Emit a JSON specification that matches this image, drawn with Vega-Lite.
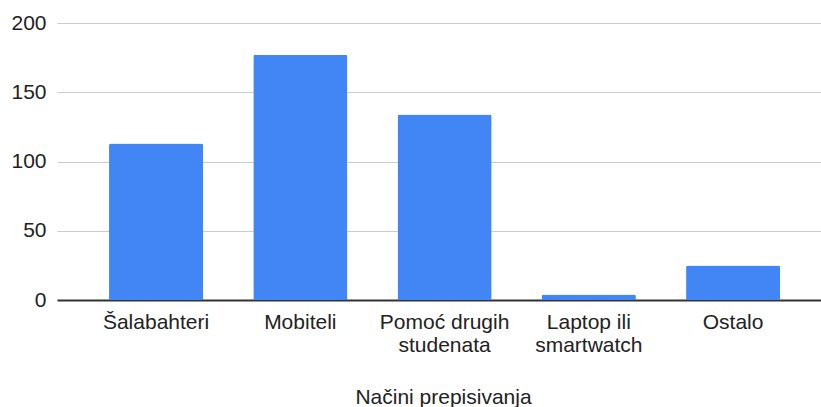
{
  "$schema": "https://vega.github.io/schema/vega-lite/v6.json",
  "autosize": {"type": "none"},
  "width": 764,
  "height": 277,
  "padding": {"left": 57, "top": 23, "right": 0, "bottom": 107},
  "background": "white",
  "data": {
    "values": [
      {"nacin": "Šalabahteri", "broj": 113},
      {"nacin": "Mobiteli", "broj": 177},
      {"nacin": "Pomoć drugih studenata", "broj": 134},
      {"nacin": "Laptop ili smartwatch", "broj": 4},
      {"nacin": "Ostalo", "broj": 25}
    ]
  },
  "mark": {"type": "bar", "color": "#4285F4", "cornerRadiusTopLeft": 2, "cornerRadiusTopRight": 2},
  "encoding": {
    "x": {
      "field": "nacin",
      "type": "nominal",
      "sort": null,
      "scale": {"paddingInner": 0.348, "paddingOuter": 0.322, "align": 0.56},
      "axis": {
        "title": "Načini prepisivanja",
        "labelAngle": 0,
        "labelFont": "Liberation Sans",
        "labelFontSize": 21,
        "labelColor": "#222222",
        "labelPadding": 11,
        "labelLineHeight": 23,
        "labelLimit": 250,
        "labelExpr": "datum.label == 'Pomoć drugih studenata' ? ['Pomoć drugih', 'studenata'] : datum.label == 'Laptop ili smartwatch' ? ['Laptop ili', 'smartwatch'] : datum.label",
        "ticks": false,
        "domain": true,
        "domainColor": "#333333",
        "domainWidth": 2,
        "titleFont": "Liberation Sans",
        "titleFontSize": 21,
        "titleFontWeight": "normal",
        "titleColor": "#222222",
        "titleBaseline": "alphabetic",
        "titleX": 386,
        "titleY": 103.5
      }
    },
    "y": {
      "field": "broj",
      "type": "quantitative",
      "scale": {"domain": [0, 200], "nice": false},
      "axis": {
        "title": null,
        "values": [0, 50, 100, 150, 200],
        "labelFont": "Liberation Sans",
        "labelFontSize": 21,
        "labelColor": "#222222",
        "labelPadding": 11,
        "ticks": false,
        "domain": false,
        "grid": true,
        "gridColor": "#cccccc",
        "gridWidth": 1
      }
    }
  },
  "config": {"view": {"stroke": null}}
}
